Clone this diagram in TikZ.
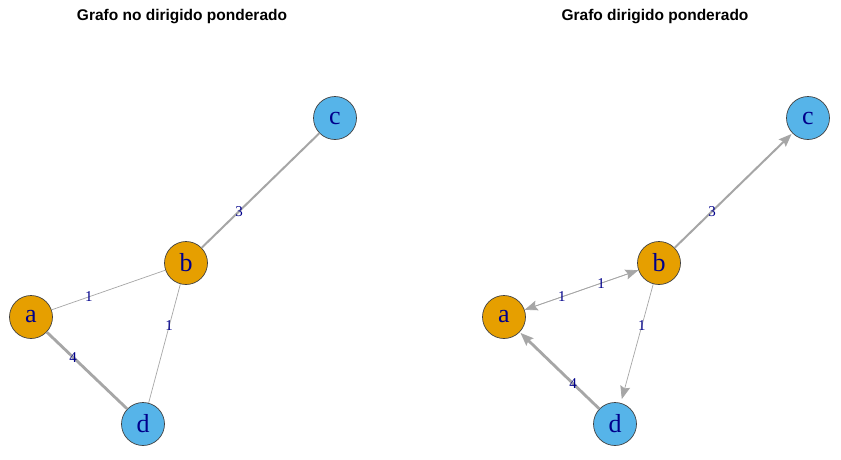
\documentclass[tikz,border=0pt]{standalone}
\usepackage{fontspec}
\setmainfont{Liberation Serif}
\newfontfamily\titlefont{Liberation Sans}
\usetikzlibrary{arrows.meta}
\definecolor{vorange}{HTML}{E69F00}
\definecolor{vblue}{HTML}{56B4E9}
\definecolor{egray}{HTML}{A6A6A6}
\definecolor{labblue}{HTML}{00008B}
\begin{document}
\begin{tikzpicture}[x=1pt,y=-1pt,
  vert/.style={circle,draw=black!75,line width=0.7pt,minimum size=43pt,inner sep=0pt,
    text=labblue,font=\fontsize{26}{26}\selectfont},
  vo/.style={vert,fill=vorange},
  vb/.style={vert,fill=vblue},
  ethin/.style={draw=egray,line width=0.7pt},
  emid/.style={draw=egray,line width=2pt},
  ethick/.style={draw=egray,line width=2.8pt},
  arr/.style={-{Stealth[length=13pt,width=10pt,inset=2pt]}},
  lab/.style={text=labblue,font=\fontsize{15}{15}\selectfont,inner sep=0pt},
  ttl/.style={font=\titlefont\bfseries\fontsize{15.5}{15.5}\selectfont,text=black}
]
\useasboundingbox[fill=white] (0,0) rectangle (841,459);
\node[ttl] (t1) at (182,17) {Grafo no dirigido ponderado};
\node[ttl] (t2) at (655,17) {Grafo dirigido ponderado};

% left graph
\node[vo] (a) at (31,317) {a};
\node[vo] (b) at (186,263) {b};
\node[vb] (c) at (335,118) {c};
\node[vb] (d) at (143,424) {d};
\draw[ethin] (a) -- (b);
\draw[ethin] (b) -- (d);
\draw[ethick] (a) -- (d);
\draw[emid] (b) -- (c);
\path (a.center) -- (b.center) node[lab,pos=0.374] (l1) {1};
\path (b.center) -- (d.center) node[lab,pos=0.391] (l2) {1};
\path (a.center) -- (d.center) node[lab,pos=0.375] (l3) {4};
\path (b.center) -- (c.center) node[lab,pos=0.356] (l4) {3};

% right graph
\node[vo] (A) at (504,317) {a};
\node[vo] (B) at (659,263) {b};
\node[vb] (C) at (808,118) {c};
\node[vb] (D) at (615,424) {d};
\draw[ethin,arr] (A) -- (B);
\draw[ethin,arr] (B) -- (A);
\draw[ethin,arr,shorten >=4pt] (B) -- (D);
\draw[ethick,arr,shorten >=1pt] (D) -- (A);
\draw[emid,arr,shorten >=1pt] (B) -- (C);
\path (A.center) -- (B.center) node[lab,pos=0.374] (L1) {1};
\path (B.center) -- (A.center) node[lab,pos=0.374] (L2) {1};
\path (B.center) -- (D.center) node[lab,pos=0.391] (L3) {1};
\path (D.center) -- (A.center) node[lab,pos=0.378] (L4) {4};
\path (B.center) -- (C.center) node[lab,pos=0.356] (L5) {3};
\end{tikzpicture}
\end{document}
